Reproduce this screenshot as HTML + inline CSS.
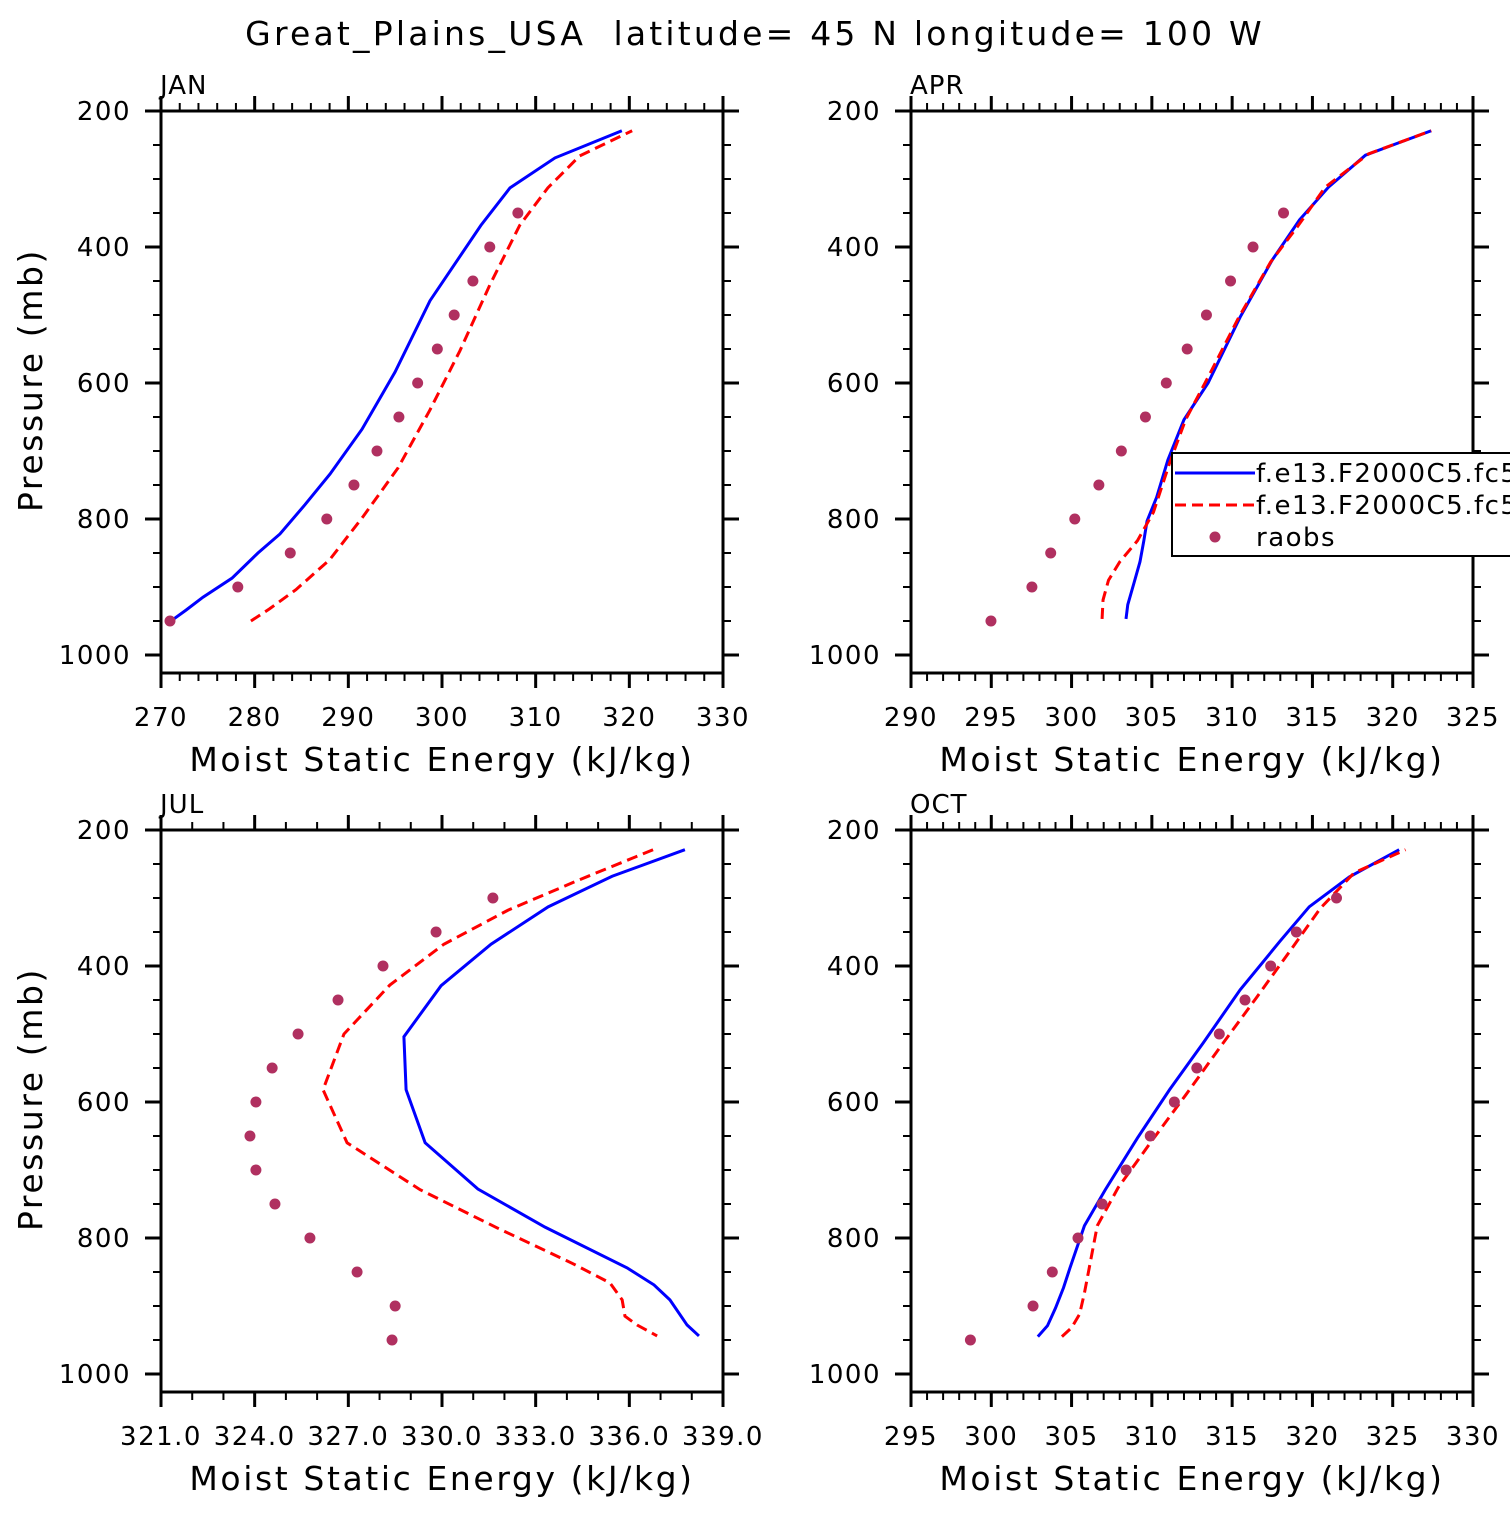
<!DOCTYPE html>
<html><head><meta charset="utf-8"><style>
html,body{margin:0;padding:0;background:#fff;overflow:hidden;}
svg text{font-family:"DejaVu Sans","Liberation Sans",sans-serif;fill:#000;white-space:pre;}
</style></head><body>
<svg id="chart" width="1510" height="1510" xmlns="http://www.w3.org/2000/svg">
<text x="755" y="45" text-anchor="middle" font-size="33" letter-spacing="3.2" xml:space="preserve">Great_Plains_USA  latitude= 45 N longitude= 100 W</text>
</svg>
<script>
// JAN
const janBlueX=[270.96,272.67,274.48,277.58,280.35,282.7,285.37,288.04,291.46,294.98,298.72,304.16,307.26,312.06,319.2];
const janBlueP=[951,934,915,887,850,822,779,734,668,584,479,368,313,269,229];
const janRedX=[279.6,281.6,284.4,288.0,291.6,295.3,298.7,301.9,305.1,308.3,311.3,314.7,320.3];
const janRedP=[950,932,904,860,796,725,640,553,456,368,313,266,229];
const obsP=[950,900,850,800,750,700,650,600,550,500,450,400,350];
const janObsX=[270.96,278.2,283.8,287.7,290.6,293.06,295.4,297.4,299.5,301.3,303.3,305.1,308.1];
// APR
const aprBlueX=[303.39,303.5,303.9,304.26,304.5,304.7,305.3,306.0,307.0,308.5,310.5,312.5,314.2,316.0,318.3,322.4];
const aprBlueP=[947,926,893,863,832,803,768,713,654,600,503,419,360,312,265,229];
const aprRedX=[301.9,301.96,302.3,303.0,304.1,305.1,306.1,307.1,308.6,310.4,312.4,314.1,315.8,318.5,322.4];
const aprRedP=[947,919,890,863,832,790,718,654,587,504,422,369,312,263,229];
const aprObsX=[294.98,297.53,298.7,300.2,301.7,303.1,304.6,305.9,307.2,308.4,309.9,311.3,313.2];
// JUL
const julBlueX=[337.78,335.45,333.40,331.57,329.97,328.78,328.85,329.46,331.15,333.30,335.93,336.79,337.30,337.85,338.23];
const julBlueP=[229,268,313,368,429,504,582,660,728,784,844,869,891,928,944];
const julRedX=[336.76,334.36,332.11,330.06,328.33,326.86,326.19,326.96,329.30,331.76,334.16,335.38,335.77,335.86,336.25,336.89];
const julRedP=[229,274,318,368,428,500,582,660,729,785,837,866,891,915,928,944];
const julObsP=[950,900,850,800,750,700,650,600,550,500,450,400,350,300];
const julObsX=[328.40,328.50,327.28,325.77,324.65,324.04,323.85,324.04,324.56,325.39,326.67,328.11,329.81,331.63];
// OCT
const octBlueX=[302.9,303.5,304.0,304.5,304.9,305.8,307.1,309.1,311.1,313.2,315.5,318.0,319.8,322.3,325.4];
const octBlueP=[945,929,903,873,844,782,729,653,582,513,435,363,313,269,229];
const octRedX=[304.4,305.0,305.5,305.8,306.1,306.6,307.9,310.0,312.1,314.2,316.5,318.6,320.5,322.6,325.8];
const octRedP=[945,932,912,881,844,782,726,657,590,521,447,378,315,263,229];
const octObsX=[298.7,302.6,303.8,305.4,306.9,308.4,309.9,311.4,312.8,314.2,315.8,317.4,319.0,321.5];
const yTicks=[200,400,600,800,1000];
const janXTicks=[270,280,290,300,310,320,330];
const aprXTicks=[290,295,300,305,310,315,320,325];
const julXTicks=[321,324,327,330,333,336,339];
const octXTicks=[295,300,305,310,315,320,325,330];

const NS="http://www.w3.org/2000/svg";
const svg=document.getElementById('chart');
function mk(tag,attrs,parent){const e=document.createElementNS(NS,tag);for(const k in attrs)e.setAttribute(k,attrs[k]);(parent||svg).appendChild(e);return e;}

function panel(o){
  const L=o.left,T=o.top,W=562,H=562;
  const g=mk('g',{});
  
  
  const xs=v=>L+(v-o.xmin)/(o.xmax-o.xmin)*W;
  const ys=p=>T+(p-200)*0.68;
  const pBot=200+H/0.68;
  for(let v=o.xmin;v<=o.xmax+1e-6;v+=o.xminor){
    const x=xs(v);
    mk('line',{x1:x,x2:x,y1:T,y2:T-8,stroke:'#000','stroke-width':2},g);
    mk('line',{x1:x,x2:x,y1:T+H,y2:T+H+8,stroke:'#000','stroke-width':2},g);
  }
  o.xticks.forEach(v=>{
    const x=xs(v);
    mk('line',{x1:x,x2:x,y1:T,y2:T-15,stroke:'#000','stroke-width':3},g);
    mk('line',{x1:x,x2:x,y1:T+H,y2:T+H+15,stroke:'#000','stroke-width':3},g);
    const t=mk('text',{x:x,y:T+H+53,'text-anchor':'middle','font-size':26,'letter-spacing':1.5},g);
    
    
    t.textContent=o.fmt?v.toFixed(1):v;
  });
  for(let p=200;p<=pBot;p+=50){
    const y=ys(p);
    mk('line',{x1:L,x2:L-8,y1:y,y2:y,stroke:'#000','stroke-width':2},g);
    mk('line',{x1:L+W,x2:L+W+8,y1:y,y2:y,stroke:'#000','stroke-width':2},g);
  }
  yTicks.forEach(p=>{
    const y=ys(p);
    mk('line',{x1:L,x2:L-16,y1:y,y2:y,stroke:'#000','stroke-width':3},g);
    mk('line',{x1:L+W,x2:L+W+16,y1:y,y2:y,stroke:'#000','stroke-width':3},g);
    const t=mk('text',{x:L-30,y:y+9,'text-anchor':'end','font-size':26,'letter-spacing':1.5},g);
    
    
    t.textContent=p;
  });
  const pl=(X,P,color,dash,nm)=>{
    const e=mk('polyline',{points:X.map((v,i)=>xs(v)+','+ys(P[i])).join(' '),fill:'none',stroke:color,'stroke-width':3,'stroke-dasharray':dash||'none'},g);
    
    
  };
  pl(o.bx,o.bp,'#0000ff',null,o.name+'-model-line-1');
  pl(o.rx,o.rp,'#ff0000','11,6',o.name+'-model-line-2');
  o.ox.forEach((v,i)=>{
    const c=mk('circle',{cx:xs(v),cy:ys(o.op[i]),r:5.5,fill:'#b03060'},g);
    
    
  });
  const b=mk('rect',{x:L,y:T,width:W,height:H,fill:'none',stroke:'#000','stroke-width':3},g);
  
  
  const ti=mk('text',{x:L-1,y:T-17,'font-size':26,'letter-spacing':1},g);
  
  
  ti.textContent=o.title;
  const xl=mk('text',{x:L+W/2,y:T+H+98,'text-anchor':'middle','font-size':33,'letter-spacing':2.6},g);
  
  
  xl.textContent='Moist Static Energy (kJ/kg)';
  if(o.ylab){
    const yl=mk('text',{x:0,y:0,'text-anchor':'middle','font-size':33,'letter-spacing':2.6,transform:`translate(42,${T+H/2-12}) rotate(-90)`},g);
    
    
    yl.textContent='Pressure (mb)';
  }
}
panel({name:'jan',title:'JAN',left:161,top:111,xmin:270,xmax:330,xminor:2,xticks:janXTicks,bx:janBlueX,bp:janBlueP,rx:janRedX,rp:janRedP,ox:janObsX,op:obsP,ylab:true});
panel({name:'apr',title:'APR',left:911,top:111,xmin:290,xmax:325,xminor:1,xticks:aprXTicks,bx:aprBlueX,bp:aprBlueP,rx:aprRedX,rp:aprRedP,ox:aprObsX,op:obsP});
panel({name:'jul',title:'JUL',left:161,top:830,xmin:321,xmax:339,xminor:1,xticks:julXTicks,fmt:true,bx:julBlueX,bp:julBlueP,rx:julRedX,rp:julRedP,ox:julObsX,op:julObsP,ylab:true});
panel({name:'oct',title:'OCT',left:911,top:830,xmin:295,xmax:330,xminor:1,xticks:octXTicks,bx:octBlueX,bp:octBlueP,rx:octRedX,rp:octRedP,ox:octObsX,op:julObsP});

const lg=mk('g',{});


mk('rect',{x:1172,y:453,width:360,height:103,fill:'#fff',stroke:'#000','stroke-width':2},lg);
mk('line',{x1:1175,x2:1255,y1:473,y2:473,stroke:'#0000ff','stroke-width':3},lg);
mk('line',{x1:1175,x2:1255,y1:505,y2:505,stroke:'#ff0000','stroke-width':3,'stroke-dasharray':'11,6'},lg);
mk('circle',{cx:1215,cy:537,r:5.5,fill:'#b03060'},lg);
const l1=mk('text',{x:1256,y:482,'font-size':26,'letter-spacing':1.5},lg);


l1.textContent='f.e13.F2000C5.fc5';
const l2=mk('text',{x:1256,y:514,'font-size':26,'letter-spacing':1.5},lg);


l2.textContent='f.e13.F2000C5.fc5';
const l3=mk('text',{x:1256,y:546,'font-size':26,'letter-spacing':1.5},lg);


l3.textContent='raobs';
</script>
</body></html>
